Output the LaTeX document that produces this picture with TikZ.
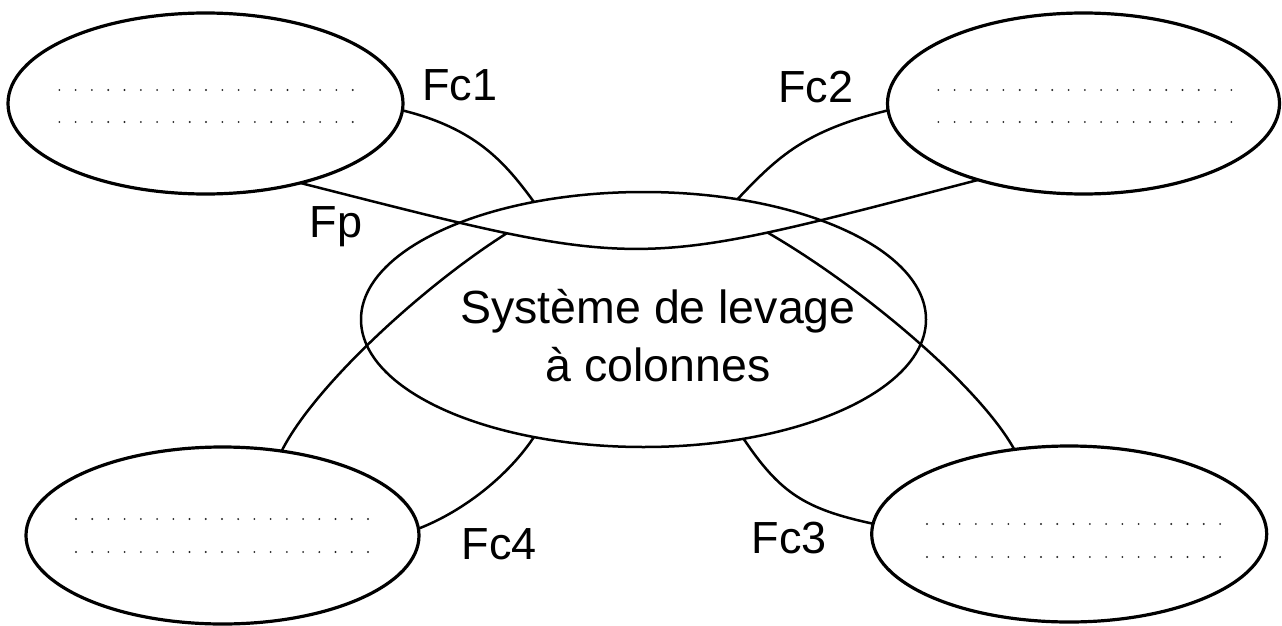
\documentclass[tikz,border=0pt]{standalone}
\usepackage{fontspec}
\setmainfont{Liberation Sans}
\usetikzlibrary{shapes.geometric}
\begin{document}
\begin{tikzpicture}[x=1pt,y=-1pt,
  outer/.style={ellipse,draw,line width=3.2pt,inner sep=0pt,outer sep=0pt},
  sys/.style={ellipse,draw,line width=2.5pt,inner sep=0pt,outer sep=0pt},
  link/.style={draw,line width=2.5pt},
  lbl/.style={inner sep=0pt,anchor=base west,font=\fontsize{45}{54}\selectfont},
  ctext/.style={inner sep=0pt,anchor=base,font=\fontsize{46.5}{55}\selectfont},
  dotfill/.style={fill=black!85}]
\useasboundingbox (0,0) rectangle (1282,626);
% elements
\node[outer,minimum width=395pt,minimum height=181pt] (tl) at (205.5,103.5) {};
\node[outer,minimum width=392pt,minimum height=181pt] (tr) at (1083.5,103.5) {};
\node[outer,minimum width=393pt,minimum height=177pt] (bl) at (222.5,535.5) {};
\node[outer,minimum width=395pt,minimum height=176pt] (br) at (1069.2,534) {};
\node[sys,minimum width=565pt,minimum height=255pt] (c) at (643.5,319.5) {};
% dotted placeholder rows
\foreach \r in {90,122} \foreach \i in {0,...,18} \fill[dotfill] (59.3+16.3*\i,\r) circle[radius=1.05pt];
\foreach \r in {90,122} \foreach \i in {0,...,18} \fill[dotfill] (938.3+16.28*\i,\r) circle[radius=1.05pt];
\foreach \r in {519,552} \foreach \i in {0,...,18} \fill[dotfill] (76+16.22*\i,\r) circle[radius=1.05pt];
\foreach \r in {524,557} \foreach \i in {0,...,18} \fill[dotfill] (927+16.28*\i,\r) circle[radius=1.05pt];
% connectors
\draw[link] (tl.-40.2) .. controls +(351,89.2) and +(-350.7,90.8) .. (tr.216.2)
  coordinate[pos=0.253] (fpl) coordinate[pos=0.74] (fpr);
\draw[link] (tl.-2.75) .. controls +(72.8,18) and +(-29.5,-40.5) .. (c.133.25);
\draw[link] (tr.182.85) .. controls +(-82.5,20.4) and +(41.4,-43.8) .. (c.52.56);
\draw[link] (bl.55.1) .. controls +(31.7,-63.3) and +(-86.7,55) .. (fpl);
\draw[link] (br.123.9) .. controls +(-35,-63.3) and +(95,55) .. (fpr);
\draw[link] (bl.2.55) .. controls +(46.5,-18) and +(-24.7,37.4) .. (c.227.1);
\draw[link] (c.-50.8) .. controls +(36.4,54) and +(-68.6,-14.7) .. (br.177.74);
% labels
\node[lbl] (fc1) at (422,100.7) {Fc1};
\node[lbl] (fc2) at (778,102) {Fc2};
\node[lbl] (fp) at (309.5,237) {Fp};
\node[lbl] (fc4) at (461.5,559) {Fc4};
\node[lbl] (fc3) at (751.5,553) {Fc3};
\node[ctext] (t1) at (658,323.5) {Système de levage};
\node[ctext] (t2) at (658,381) {à colonnes};
\end{tikzpicture}
\end{document}
